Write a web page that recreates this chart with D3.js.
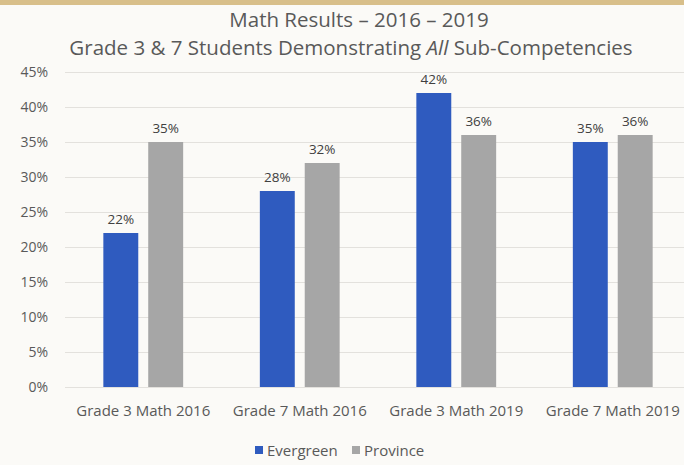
<!DOCTYPE html>
<html>
<head>
<style>
body { margin: 0px; overflow: hidden; background: #fbfaf7; }
text { font-family: 'Open Sans', sans-serif; fill: #595959; }
.tick text { font-size: 14px; }
.tick line { stroke: #e3e1dd; }
.title { font-size: 20.5px; }
.value { font-size: 13.5px; fill: #404040; }
</style>
<script src="https://cdn.jsdelivr.net/npm/d3@7"></script>
</head>
<body>
<svg width="684" height="465"></svg>
<script>
const categories = ['Grade 3 Math 2016', 'Grade 7 Math 2016', 'Grade 3 Math 2019', 'Grade 7 Math 2019'];
const series = ['Evergreen', 'Province'];
const evergreen = [22, 28, 42, 35];
const province = [35, 32, 36, 36];
const yTicks = [0, 5, 10, 15, 20, 25, 30, 35, 40, 45];
const colors = ['#2f5bbf', '#a6a6a6'];

const svg = d3.select('svg');
const width = +svg.attr('width');
const height = +svg.attr('height');

svg.append('rect').attr('width', width).attr('height', 5).attr('fill', '#d8bf8a');

const margin = { top: 72, left: 65, bottom: 78 };
const xScale = d3.scaleBand().domain(categories).range([margin.left, 691]).paddingInner(0.49).paddingOuter(0.245);
const sub = d3.scaleBand().domain(series).range([0, xScale.bandwidth()]).paddingInner(0.222);
const yScale = d3.scaleLinear().domain([0, 45]).range([height - margin.bottom, margin.top]);

const yAxisG = svg.append('g')
  .attr('transform', `translate(${margin.left},0)`)
  .call(d3.axisLeft(yScale).tickValues(yTicks).tickFormat(d => d + '%').tickSize(-(width - margin.left)).tickPadding(17));
yAxisG.select('.domain').remove();
yAxisG.selectAll('.tick line').filter(d => d === 0).attr('stroke', '#d9d7d2');

const xAxisG = svg.append('g')
  .attr('transform', `translate(0,${height - margin.bottom})`)
  .call(d3.axisBottom(xScale).tickSize(0).tickPadding(18));
xAxisG.select('.domain').remove();
xAxisG.selectAll('text').style('font-size', '15px');

const rows = categories.map((c, i) => ({ cat: c, values: [evergreen[i], province[i]] }));

const groups = svg.selectAll('.grp').data(rows).enter().append('g')
  .attr('transform', d => `translate(${xScale(d.cat)},0)`);

groups.selectAll('rect').data(d => d.values.map((v, j) => ({ s: series[j], v, j })))
  .enter().append('rect')
  .attr('x', d => sub(d.s))
  .attr('width', sub.bandwidth())
  .attr('y', d => yScale(d.v))
  .attr('height', d => yScale(0) - yScale(d.v))
  .attr('fill', d => colors[d.j]);

groups.selectAll('.value').data(d => d.values.map((v, j) => ({ s: series[j], v })))
  .enter().append('text')
  .attr('class', 'value')
  .attr('x', d => sub(d.s) + sub.bandwidth() / 2)
  .attr('y', d => yScale(d.v) - 9)
  .attr('text-anchor', 'middle')
  .text(d => d.v + '%');

svg.append('text').attr('class', 'title').attr('x', 359).attr('y', 27).attr('text-anchor', 'middle')
  .text('Math Results \u2013 2016 \u2013 2019');
const sub2 = svg.append('text').attr('class', 'title').attr('x', 351).attr('y', 55).attr('text-anchor', 'middle');
sub2.append('tspan').text('Grade 3 & 7 Students Demonstrating ');
sub2.append('tspan').style('font-style', 'italic').text('All');
sub2.append('tspan').text(' Sub-Competencies');

const legend = svg.selectAll('.legend').data(series).enter().append('g')
  .attr('transform', (d, i) => `translate(${[255, 352][i]},${height - 9})`);
legend.append('rect').attr('x', 0).attr('y', -10).attr('width', 8).attr('height', 8).attr('fill', (d, i) => colors[i]);
legend.append('text').attr('x', 12).attr('y', 0).style('font-size', '15px').text(d => d);
</script>
</body>
</html>
